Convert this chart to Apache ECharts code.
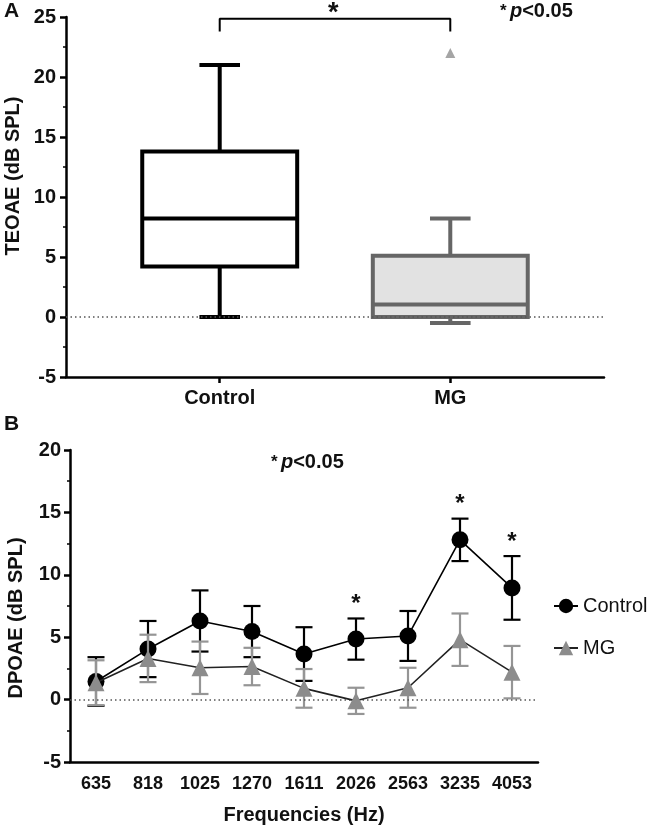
<!DOCTYPE html>
<html><head><meta charset="utf-8">
<script src="https://cdn.jsdelivr.net/npm/echarts@6/dist/echarts.min.js"></script>
<style>html,body{margin:0;padding:0;background:#fff}#c{width:652px;height:828px}</style>
</head><body><div id="c"></div>
<script>
// ---- Panel A data ----
const groupsA = ['Control', 'MG'];
// [min, Q1, median, Q3, max]
const boxControl = [0, 4.2, 8.2, 13.8, 21];
const boxMG = [-0.5, 0, 1.05, 5.1, 8.2];
const outliersMG = [22];
const ticksA = [-5, 0, 5, 10, 15, 20, 25];

// ---- Panel B data ----
const freqs = ['635', '818', '1025', '1270', '1611', '2026', '2563', '3235', '4053'];
const controlMean = [1.45, 4.05, 6.3, 5.45, 3.65, 4.85, 5.1, 12.8, 8.95];
const controlErr  = [1.95, 2.25, 2.45, 2.05, 2.15, 1.65, 2.0, 1.7, 2.55];
const mgMean = [1.35, 3.3, 2.55, 2.65, 0.9, -0.1, 0.95, 4.8, 2.2];
const mgErr  = [1.8, 1.9, 2.1, 1.5, 1.55, 1.05, 1.6, 2.1, 2.1];
const significant = ['2026', '3235', '4053'];

const FONT = '"Liberation Sans", Arial, sans-serif';
const chart = echarts.init(document.getElementById('c'), null, {renderer: 'canvas'});

function boxRender(params, api) {
  const x = api.value(0);
  const vmin = api.value(1), q1 = api.value(2), med = api.value(3), q3 = api.value(4), vmax = api.value(5);
  const hw = 0.336, cw = 0.088;
  const isMG = x === 1;
  const stroke = isMG ? '#666666' : '#000000';
  const fill = isMG ? '#e2e2e2' : '#ffffff';
  const lw = 4;
  const tl = api.coord([x - hw, q3]), br = api.coord([x + hw, q1]);
  const pMed1 = api.coord([x - hw, med]), pMed2 = api.coord([x + hw, med]);
  const pTop = api.coord([x, vmax]), pBot = api.coord([x, vmin]);
  const pQ3 = api.coord([x, q3]), pQ1 = api.coord([x, q1]);
  const cL = api.coord([x - cw, 0])[0], cR = api.coord([x + cw, 0])[0];
  const ls = {stroke: stroke, lineWidth: lw};
  return {type: 'group', children: [
    {type: 'line', shape: {x1: pTop[0], y1: pTop[1], x2: pQ3[0], y2: pQ3[1]}, style: ls},
    {type: 'line', shape: {x1: pBot[0], y1: pBot[1], x2: pQ1[0], y2: pQ1[1]}, style: ls},
    {type: 'line', shape: {x1: cL, y1: pTop[1], x2: cR, y2: pTop[1]}, style: ls},
    {type: 'line', shape: {x1: cL, y1: pBot[1], x2: cR, y2: pBot[1]}, style: ls},
    {type: 'rect', shape: {x: tl[0], y: tl[1], width: br[0] - tl[0], height: br[1] - tl[1]}, style: {fill: fill, stroke: stroke, lineWidth: lw}},
    {type: 'line', shape: {x1: pMed1[0], y1: pMed1[1], x2: pMed2[0], y2: pMed2[1]}, style: ls}
  ]};
}

function errRender(color, withStars) {
  return function (params, api) {
    const i = api.value(0);
    const lo = api.coord([i, api.value(1)]), hi = api.coord([i, api.value(2)]);
    const c = 8.5;
    const st = {stroke: color, lineWidth: 2.2};
    const ch = [
      {type: 'line', shape: {x1: lo[0], y1: lo[1], x2: hi[0], y2: hi[1]}, style: st},
      {type: 'line', shape: {x1: hi[0] - c, y1: hi[1], x2: hi[0] + c, y2: hi[1]}, style: st},
      {type: 'line', shape: {x1: lo[0] - c, y1: lo[1], x2: lo[0] + c, y2: lo[1]}, style: st}
    ];
    if (withStars && api.value(3) === 1) {
      ch.push({type: 'text', style: {text: '*', x: hi[0], y: hi[1] - 2, align: 'center', verticalAlign: 'bottom', fill: '#111', font: 'bold 24px ' + FONT}});
    }
    return {type: 'group', children: ch};
  };
}

const axisLineStyle = {color: '#000', width: 2.5};
const labelStyle = {color: '#111', fontSize: 20, fontWeight: 'bold', fontFamily: FONT};
const nameStyle = {fontSize: 20, fontWeight: 'bold', color: '#111', fontFamily: FONT};
const dotted = {type: [1.5, 3], color: '#555', width: 1.5};

const option = {
  animation: false,
  textStyle: {fontFamily: FONT},
  grid: [
    {left: 66, top: 17, width: 538, height: 360, containLabel: false},
    {left: 70, top: 450, width: 468, height: 312, containLabel: false}
  ],
  legend: {
    orient: 'vertical', left: 548, top: 591, itemGap: 22, itemWidth: 24, itemHeight: 18,
    textStyle: {fontSize: 20, color: '#111', fontFamily: FONT},
    data: ['Control', 'MG']
  },
  xAxis: [
    {
      gridIndex: 0, type: 'value', min: -2 / 3, max: 5 / 3,
      splitLine: {show: false},
      axisLine: {onZero: false, lineStyle: axisLineStyle},
      axisTick: {show: true, length: 6, lineStyle: {width: 2.5, color: '#000'}, customValues: [0, 1]},
      axisLabel: Object.assign({}, labelStyle, {margin: 11, customValues: [0, 1], formatter: v => groupsA[Math.round(v)]})
    },
    {
      gridIndex: 1, type: 'category', data: freqs, boundaryGap: true,
      axisLine: {onZero: false, lineStyle: axisLineStyle},
      axisTick: {alignWithLabel: true, interval: 0, length: 5, lineStyle: {width: 2.5, color: '#000'}},
      axisLabel: Object.assign({}, labelStyle, {fontSize: 18, margin: 13, interval: 0, hideOverlap: false}),
      name: 'Frequencies (Hz)', nameLocation: 'middle', nameGap: 43,
      nameTextStyle: nameStyle
    }
  ],
  yAxis: [
    {
      gridIndex: 0, type: 'value', min: -5, max: 25, interval: 5,
      splitLine: {show: false},
      axisLine: {show: true, onZero: false, lineStyle: axisLineStyle},
      axisTick: {show: true, length: 6, lineStyle: {width: 2.5, color: '#000'}},
      minorTick: {show: true, splitNumber: 2, length: 3, lineStyle: {width: 1.5, color: '#000'}},
      axisLabel: Object.assign({}, labelStyle, {margin: 10})
    },
    {
      gridIndex: 1, type: 'value', min: -5, max: 20, interval: 5,
      splitLine: {show: false},
      axisLine: {show: true, onZero: false, lineStyle: axisLineStyle},
      axisTick: {show: true, length: 6, lineStyle: {width: 2.5, color: '#000'}},
      minorTick: {show: true, splitNumber: 2, length: 3, lineStyle: {width: 1.5, color: '#000'}},
      axisLabel: Object.assign({}, labelStyle, {margin: 9})
    }
  ],
  series: [
    // Panel A: bracket + zero line
    {
      type: 'line', xAxisIndex: 0, yAxisIndex: 0, z: 1, symbol: 'none', silent: true,
      data: [[0, 23.8], [0, 24.85], [1, 24.85], [1, 23.8]],
      lineStyle: {color: '#000', width: 2},
      markLine: {silent: true, symbol: 'none', label: {show: false}, lineStyle: dotted, data: [{yAxis: 0}]}
    },
    {
      type: 'custom', xAxisIndex: 0, yAxisIndex: 0, z: 3, renderItem: boxRender,
      data: [[0].concat(boxControl), [1].concat(boxMG)]
    },
    {
      type: 'scatter', xAxisIndex: 0, yAxisIndex: 0, z: 3, symbol: 'triangle', symbolSize: 10,
      itemStyle: {color: '#8f8f8f'},
      data: outliersMG.map(v => [1, v])
    },
    // Panel B
    {
      type: 'line', xAxisIndex: 1, yAxisIndex: 1, z: 1, symbol: 'none', silent: true, data: [],
      markLine: {silent: true, symbol: 'none', label: {show: false}, lineStyle: dotted, data: [{yAxis: 0}]}
    },
    {
      type: 'custom', xAxisIndex: 1, yAxisIndex: 1, z: 2, renderItem: errRender('#000', true),
      data: freqs.map((f, i) => [i, controlMean[i] - controlErr[i], controlMean[i] + controlErr[i], significant.includes(f) ? 1 : 0])
    },
    {
      name: 'Control', type: 'line', xAxisIndex: 1, yAxisIndex: 1, z: 3,
      symbol: 'circle', symbolSize: 17, data: controlMean,
      itemStyle: {color: '#000'}, lineStyle: {color: '#000', width: 1.6}
    },
    {
      type: 'custom', xAxisIndex: 1, yAxisIndex: 1, z: 4, renderItem: errRender('#959595', false),
      data: freqs.map((f, i) => [i, mgMean[i] - mgErr[i], mgMean[i] + mgErr[i], 0])
    },
    {
      name: 'MG', type: 'line', xAxisIndex: 1, yAxisIndex: 1, z: 5,
      symbol: 'triangle', symbolSize: 17, data: mgMean,
      itemStyle: {color: '#8c8c8c'}, lineStyle: {color: '#222', width: 1.6}
    }
  ],
  graphic: [
    {type: 'text', left: 4, top: 1, style: {text: 'A', font: 'bold 21px ' + FONT, fill: '#111'}},
    {type: 'text', left: 4, top: 414, style: {text: 'B', font: 'bold 21px ' + FONT, fill: '#111'}},
    {type: 'text', x: 13, y: 176, rotation: Math.PI / 2, style: {text: 'TEOAE (dB SPL)', x: 0, y: 0, align: 'center', verticalAlign: 'middle', font: 'bold 20px ' + FONT, fill: '#111'}},
    {type: 'text', x: 16, y: 618, rotation: Math.PI / 2, style: {text: 'DPOAE (dB SPL)', x: 0, y: 0, align: 'center', verticalAlign: 'middle', font: 'bold 20px ' + FONT, fill: '#111'}},
    {type: 'text', left: 328, top: 0, style: {text: '*', font: 'bold 27px ' + FONT, fill: '#111'}},
    {type: 'text', left: 500, top: 1, style: {
      text: '{s|*} {p|p}{t|<0.05}', fill: '#111',
      rich: {s: {font: 'bold 17px ' + FONT}, p: {font: 'italic bold 20px ' + FONT}, t: {font: 'bold 20px ' + FONT}}}},
    {type: 'text', left: 271, top: 452, style: {
      text: '{s|*} {p|p}{t|<0.05}', fill: '#111',
      rich: {s: {font: 'bold 17px ' + FONT}, p: {font: 'italic bold 20px ' + FONT}, t: {font: 'bold 20px ' + FONT}}}}
  ]
};
chart.setOption(option);
</script>
</body></html>
